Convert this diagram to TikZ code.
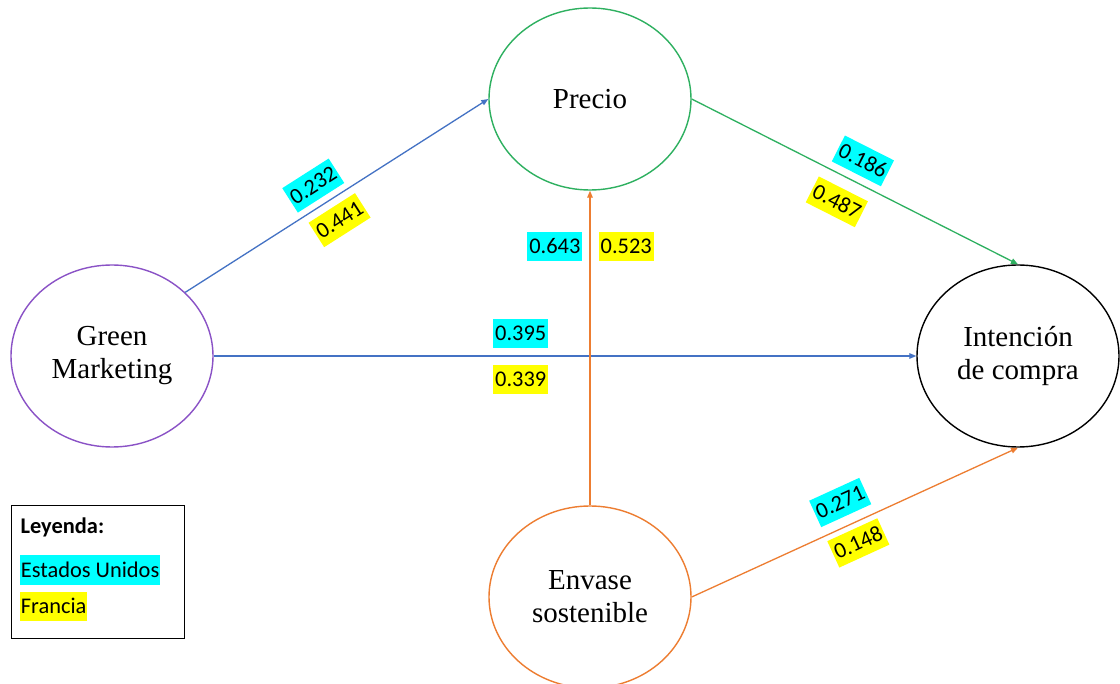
\documentclass[tikz,border=0pt]{standalone}
\usepackage{fontspec}
\setmainfont{Liberation Serif}
\newfontfamily\lbl{Carlito}
\usetikzlibrary{shapes.geometric,arrows.meta}
\definecolor{gmpurple}{HTML}{8A52C6}
\definecolor{pblue}{HTML}{4472C4}
\definecolor{pgreen}{HTML}{2EB060}
\definecolor{porange}{HTML}{ED7D31}
\definecolor{hlcyan}{HTML}{00FFFF}
\definecolor{hlyellow}{HTML}{FFFF00}
\tikzset{
  latent/.style={ellipse, draw, line width=1.4pt, minimum width=202pt, minimum height=182pt,
    inner sep=0pt, align=center, font=\fontsize{29}{33}\selectfont},
  us/.style={fill=hlcyan, text=black, inner xsep=2pt, inner ysep=0pt, text height=21.5pt, text depth=7.5pt,
    font=\lbl\fontsize{22.4}{26}\selectfont},
  fr/.style={us, fill=hlyellow},
  link/.style={line width=1.3pt, -{Triangle[length=7pt,width=5.5pt]}},
  legtext/.style={inner sep=0pt, text=black, font=\lbl\fontsize{22.4}{26}\selectfont}
}
\begin{document}
\begin{tikzpicture}[x=1pt,y=-1pt]
\useasboundingbox (0,0) rectangle (1120,684);
\fill[white] (0,0) rectangle (1120,684);

% constructs
\node[latent, draw=pgreen]  (pre) at (590,99)  {Precio};
\node[latent, draw=gmpurple] (gm) at (112,356) {Green\\Marketing};
\node[latent, draw=black]   (int) at (1018,356) {Intención\\de compra};
\node[latent, draw=porange] (env) at (590,597) {Envase\\sostenible};

% paths with coefficients (Estados Unidos / Francia)
\draw[link, pblue] (gm.41) -- (pre.west)
  node[us, sloped, pos=0.46, above=6pt] (c1) {0.232}
  node[fr, sloped, pos=0.47, below=7pt] (f1) {0.441};

\draw[link, pgreen] (pre.east) -- (int.north)
  node[us, sloped, pos=0.494, above=7pt] (c2) {0.186}
  node[fr, sloped, pos=0.481, below=11pt] (f2) {0.487};

\draw[link, pblue] (gm.east) -- (int.west)
  node[us, pos=0.437, above=7pt] (c3) {0.395}
  node[fr, pos=0.437, below=8pt] (f3) {0.339};

\draw[link, porange] (env.north) -- (pre.south)
  node[us, pos=0.822, left=7pt] (c4) {0.643}
  node[fr, pos=0.822, right=8pt] (f4) {0.523};

\draw[link, porange] (env.east) -- (int.south)
  node[us, sloped, pos=0.486, above=9pt] (c5) {0.271}
  node[fr, sloped, pos=0.485, below=5pt] (f5) {0.148};

% legend
\node[draw, line width=1.4pt, minimum width=173pt, minimum height=133pt, anchor=north west, inner sep=0pt]
  (legend) at (11,505) {};
\node[legtext, anchor=base west] (lt) at (20.5,534) {\bfseries Leyenda:};
\node[us, inner xsep=1pt, anchor=base west] (lus) at (19.7,577) {Estados Unidos};
\node[fr, inner xsep=1pt, anchor=base west] (lfr) at (19.7,613) {Francia};
\end{tikzpicture}
\end{document}
